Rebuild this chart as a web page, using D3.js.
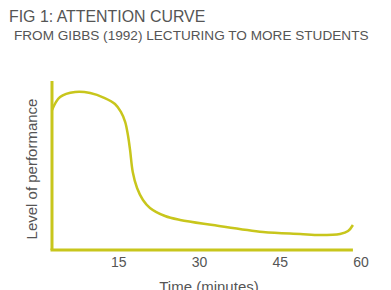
<!DOCTYPE html>
<html><head><meta charset="utf-8">
<script src="https://cdn.jsdelivr.net/npm/d3@7"></script>
<style>body{margin:0;background:#fff;} text{font-family:"Liberation Sans",Arial,sans-serif;fill:#555;}</style>
</head><body>
<script>
const title = "FIG 1: ATTENTION CURVE";
const subtitle = "FROM GIBBS (1992) LECTURING TO MORE STUDENTS";
const xTicks = [15, 30, 45, 60];
const minutes = [2.6, 4.1, 6.9, 9.7, 12.4, 14.3, 15.4, 16.2, 16.7, 17.1, 17.6, 18.4, 19.5, 20.8, 23.6, 26.4, 32.5, 41.8, 48.7, 52.4, 56.1, 57.6, 58.5];
const performance = [82.8, 90.5, 93.5, 92.9, 89.9, 86.4, 81.7, 75.7, 68.0, 59.2, 46.2, 36.7, 29.6, 24.9, 20.1, 17.8, 14.8, 10.7, 9.5, 8.9, 9.5, 11.2, 14.8];
const color = "#c8c61c";

const W = 391, H = 290;
const svg = d3.select("body").append("svg").attr("width", W).attr("height", H);
const x = d3.scaleLinear().domain([0, 60]).range([38, 361]);
const y = d3.scaleLinear().domain([0, 100]).range([250, 81]);

svg.append("text").attr("x", 9).attr("y", 21.5).attr("font-size", 15.9).text(title);
svg.append("text").attr("x", 14).attr("y", 40).attr("font-size", 13.6).text(subtitle);

const x0 = minutes[0], x1 = minutes[minutes.length - 1];
svg.append("line").attr("x1", x(x0)).attr("x2", x(x0)).attr("y1", y(100)).attr("y2", y(0))
  .attr("stroke", color).attr("stroke-width", 3);
svg.append("line").attr("x1", x(x0) - 1.5).attr("x2", x(x1)).attr("y1", y(0)).attr("y2", y(0))
  .attr("stroke", color).attr("stroke-width", 3);

const data = minutes.map((m, i) => [m, performance[i]]);
svg.append("path").datum(data)
  .attr("d", d3.line().x(d => x(d[0])).y(d => y(d[1])).curve(d3.curveCatmullRom.alpha(0.5)))
  .attr("fill", "none").attr("stroke", color).attr("stroke-width", 2.5);

svg.selectAll(".tick").data(xTicks).enter().append("text")
  .attr("x", d => x(d)).attr("y", 267).attr("text-anchor", "middle").attr("font-size", 14).text(d => d);

svg.append("text").attr("x", 209).attr("y", 292).attr("text-anchor", "middle").attr("font-size", 15).text("Time (minutes)");
svg.append("text").attr("transform", "translate(37,169) rotate(-90)").attr("text-anchor", "middle").attr("font-size", 15).text("Level of performance");
</script>
</body></html>
